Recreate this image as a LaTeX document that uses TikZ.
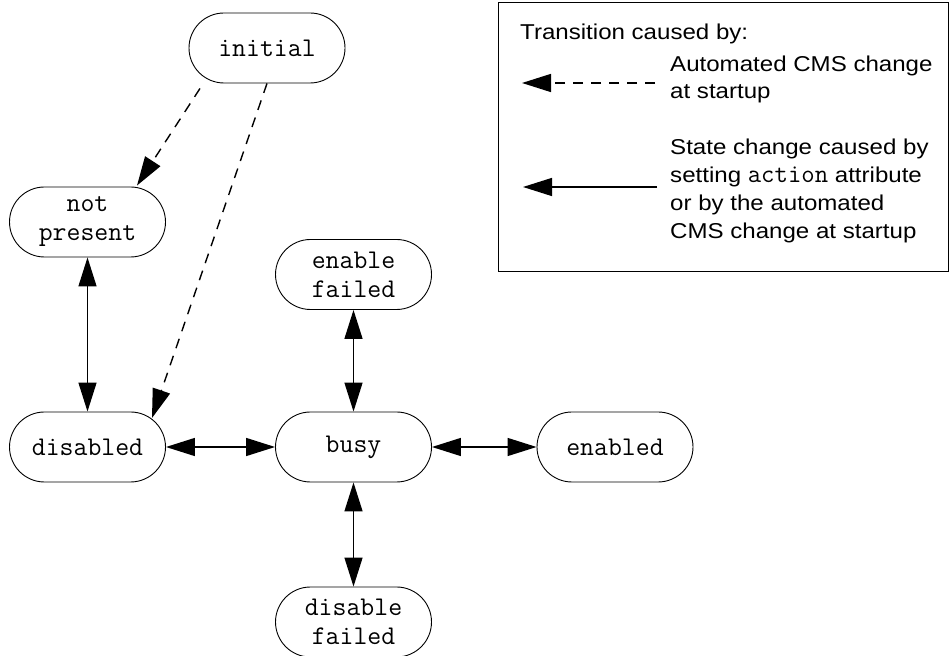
\documentclass[tikz,border=0pt]{standalone}
\usepackage{fontspec}
\newfontfamily\legendfont[FakeStretch=1.12]{Liberation Sans}
\usetikzlibrary{arrows.meta,calc}
\begin{document}
\begin{tikzpicture}[x=1pt,y=1pt,
  statebox/.style={draw, line width=0.9pt, rectangle, rounded corners=35pt,
    minimum width=156pt, minimum height=70pt, inner sep=0pt, align=center,
    font=\fontsize{27}{29}\selectfont\ttfamily},
  trans/.style={line width=1.4pt, -{Triangle[length=29pt,width=18pt]}},
  twoway/.style={line width=1.4pt, {Triangle[length=29pt,width=18pt]}-{Triangle[length=29pt,width=18pt]}},
  autoarrow/.style={trans, dash pattern=on 10pt off 8pt},
  legtext/.style={anchor=base west, inner sep=0pt, font=\fontsize{21.5}{26}\selectfont\legendfont},
]
\useasboundingbox (0,0) rectangle (949,655);

% states
\node[statebox] (initial) at (267,607) {initial};
\node[statebox] (notpresent) at (87.5,433) {not\\present};
\node[statebox] (enablefailed) at (353.5,380.5) {enable\\failed};
\node[statebox] (disabled) at (87.5,208) {disabled};
\node[statebox] (busy) at (353.5,208) {busy};
\node[statebox] (enabled) at (615,208) {enabled};
\node[statebox] (disablefailed) at (353.5,33) {disable\\failed};

% transitions
\draw[twoway] (notpresent) -- (disabled);
\draw[twoway] (disabled) -- (busy);
\draw[twoway] (enablefailed) -- (busy);
\draw[twoway] (busy) -- (enabled);
\draw[twoway] (busy) -- (disablefailed);
\draw[autoarrow] ($(initial.south)+(-67,-5)$) -- ($(notpresent.north)+(49.5,1)$);
\draw[autoarrow] (initial.south) -- ($(disabled.center)+(64.5,29)$);

% legend
\node[draw, line width=0.9pt, minimum width=450pt, minimum height=269pt, inner sep=0pt, anchor=north west] (legend) at (498,653) {};
\coordinate (dashS) at (655,572);
\coordinate (dashE) at (522,572);
\coordinate (solS) at (657,468);
\coordinate (solE) at (523,468);
\draw[autoarrow] (dashS) -- (dashE);
\draw[trans] (solS) -- (solE);
\node[legtext] (lt) at (520,615) {Transition caused by:};
\node[legtext] (la1) at (670,583) {Automated CMS change};
\node[legtext] (la2) at (670,556) {at startup};
\node[legtext] (ls1) at (670,500) {State change caused by};
\node[legtext] (ls2) at (670,472) {setting {\fontsize{26}{26}\selectfont\ttfamily action} attribute};
\node[legtext] (ls3) at (670,444) {or by the automated};
\node[legtext] (ls4) at (670,416) {CMS change at startup};
\end{tikzpicture}
\end{document}
